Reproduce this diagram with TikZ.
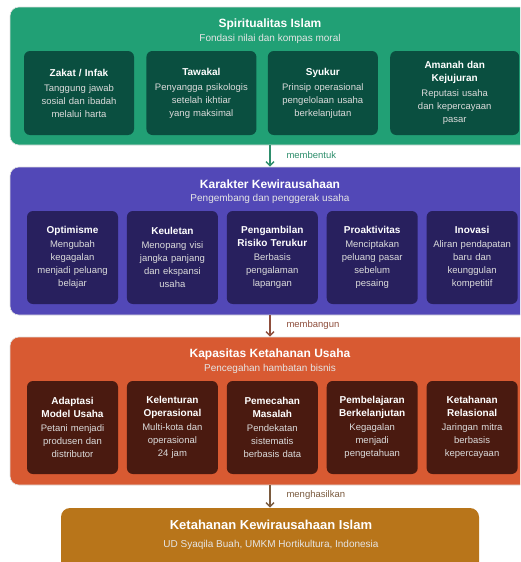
\documentclass[tikz,border=0pt]{standalone}
\usepackage{fontspec}
\setmainfont{Liberation Sans}
\usepackage{xcolor}
\usetikzlibrary{arrows.meta, positioning}

\definecolor{hijau}{HTML}{21A075}
\definecolor{hijautua}{HTML}{0A4F40}
\definecolor{ungu}{HTML}{5248B7}
\definecolor{ungutua}{HTML}{28205E}
\definecolor{jingga}{HTML}{D85A32}
\definecolor{jinggatua}{HTML}{4A1A10}
\definecolor{emas}{HTML}{B8751A}
\definecolor{panahA}{HTML}{2E8E6C}
\definecolor{panahB}{HTML}{8E4E3C}
\definecolor{panahC}{HTML}{7A5A3E}

\begin{document}
\begin{tikzpicture}[
    x=1pt, y=-1pt,
    >={Straight Barb[length=4pt,width=8pt]},
    panel/.style={
        rectangle,
        rounded corners=9pt,
        draw=black!12,
        line width=0.6pt,
        minimum width=520pt
    },
    kotak/.style={
        rectangle,
        rounded corners=6pt,
        align=center,
        inner sep=0pt,
        text width=91pt,
        minimum height=93pt,
        text=white!86!black,
        font=\fontsize{9.5}{13}\selectfont
    },
    judul/.style={font=\fontsize{12}{14}\selectfont\bfseries, text=white},
    subjudul/.style={font=\fontsize{10}{12}\selectfont, text=white!90!black},
    panah/.style={->, line width=1.4pt},
    keterangan/.style={anchor=west, font=\fontsize{9.5}{11}\selectfont}
]
\clip (0,0) rectangle (520,562);

% lapisan 1
\node[panel, fill=hijau, minimum height=138pt] (spirit) at (270,76) {};
\node[judul] (judulA) at (270,24) {Spiritualitas Islam};
\node[subjudul] (subA) at (270,39) {Fondasi nilai dan kompas moral};

\node[kotak, fill=hijautua, text width=110pt, minimum height=84pt] (zakat) at (79,93) {{\fontsize{10}{13}\selectfont\bfseries\color{white} Zakat / Infak}\\[2pt] Tanggung jawab\\ sosial dan ibadah\\ melalui harta};
\node[kotak, fill=hijautua, text width=110pt, minimum height=84pt, right=12pt of zakat] (tawakal) {{\fontsize{10}{13}\selectfont\bfseries\color{white} Tawakal}\\[2pt] Penyangga psikologis\\ setelah ikhtiar\\ yang maksimal};
\node[kotak, fill=hijautua, text width=110pt, minimum height=84pt, right=11pt of tawakal] (syukur) {{\fontsize{10}{13}\selectfont\bfseries\color{white} Syukur}\\[2pt] Prinsip operasional\\ pengelolaan usaha\\ berkelanjutan};
\node[kotak, fill=hijautua, text width=129pt, minimum height=84pt, right=12pt of syukur] (amanah) {{\fontsize{10}{13}\selectfont\bfseries\color{white} Amanah dan\\ Kejujuran}\\[2pt] Reputasi usaha\\ dan kepercayaan\\ pasar};

% lapisan 2
\node[panel, fill=ungu, minimum height=148pt] (karakter) at (270,241) {};
\node[judul] (judulB) at (270,184) {Karakter Kewirausahaan};
\node[subjudul] (subB) at (270,199) {Pengembang dan penggerak usaha};

\node[kotak, fill=ungutua] (optimisme) at (72.5,257.5) {{\fontsize{10}{13}\selectfont\bfseries\color{white} Optimisme}\\[1pt] Mengubah\\ kegagalan\\ menjadi peluang\\ belajar};
\node[kotak, fill=ungutua, right=8.5pt of optimisme] (keuletan) {{\fontsize{10}{13}\selectfont\bfseries\color{white} Keuletan}\\[1pt] Menopang visi\\ jangka panjang\\ dan ekspansi\\ usaha};
\node[kotak, fill=ungutua, right=8.5pt of keuletan] (risiko) {{\fontsize{10}{13}\selectfont\bfseries\color{white} Pengambilan\\ Risiko Terukur}\\[1pt] Berbasis\\ pengalaman\\ lapangan};
\node[kotak, fill=ungutua, right=8.5pt of risiko] (proaktif) {{\fontsize{10}{13}\selectfont\bfseries\color{white} Proaktivitas}\\[1pt] Menciptakan\\ peluang pasar\\ sebelum\\ pesaing};
\node[kotak, fill=ungutua, right=8.5pt of proaktif] (inovasi) {{\fontsize{10}{13}\selectfont\bfseries\color{white} Inovasi}\\[1pt] Aliran pendapatan\\ baru dan\\ keunggulan\\ kompetitif};

% lapisan 3
\node[panel, fill=jingga, minimum height=148pt] (kapasitas) at (270,411) {};
\node[judul] (judulC) at (270,354) {Kapasitas Ketahanan Usaha};
\node[subjudul] (subC) at (270,369) {Pencegahan hambatan bisnis};

\node[kotak, fill=jinggatua] (adaptasi) at (72.5,427.5) {{\fontsize{10}{13}\selectfont\bfseries\color{white} Adaptasi\\ Model Usaha}\\[1pt] Petani menjadi\\ produsen dan\\ distributor};
\node[kotak, fill=jinggatua, right=8.5pt of adaptasi] (lentur) {{\fontsize{10}{13}\selectfont\bfseries\color{white} Kelenturan\\ Operasional}\\[1pt] Multi-kota dan\\ operasional\\ 24 jam};
\node[kotak, fill=jinggatua, right=8.5pt of lentur] (masalah) {{\fontsize{10}{13}\selectfont\bfseries\color{white} Pemecahan\\ Masalah}\\[1pt] Pendekatan\\ sistematis\\ berbasis data};
\node[kotak, fill=jinggatua, right=8.5pt of masalah] (belajar) {{\fontsize{10}{13}\selectfont\bfseries\color{white} Pembelajaran\\ Berkelanjutan}\\[1pt] Kegagalan\\ menjadi\\ pengetahuan};
\node[kotak, fill=jinggatua, right=8.5pt of belajar] (relasi) {{\fontsize{10}{13}\selectfont\bfseries\color{white} Ketahanan\\ Relasional}\\[1pt] Jaringan mitra\\ berbasis\\ kepercayaan};

% hasil akhir
\node[panel, fill=emas, draw=none, minimum width=418pt, minimum height=64pt] (hasil) at (270,540) {};
\node[judul, font=\fontsize{13}{15}\selectfont\bfseries] (judulD) at (271,525) {Ketahanan Kewirausahaan Islam};
\node[subjudul] (subD) at (271,545) {UD Syaqila Buah, UMKM Hortikultura, Indonesia};

\draw[panah, panahA] (spirit.south) -- (karakter.north);
\draw[panah, panahB] (karakter.south) -- (kapasitas.north);
\draw[panah, panahC] (kapasitas.south) -- (hasil.north);

\node[keterangan, text=panahA] (ketA) at (283,155) {membentuk};
\node[keterangan, text=panahB] (ketB) at (283,325) {membangun};
\node[keterangan, text=panahC] (ketC) at (283,495) {menghasilkan};

\end{tikzpicture}
\end{document}
